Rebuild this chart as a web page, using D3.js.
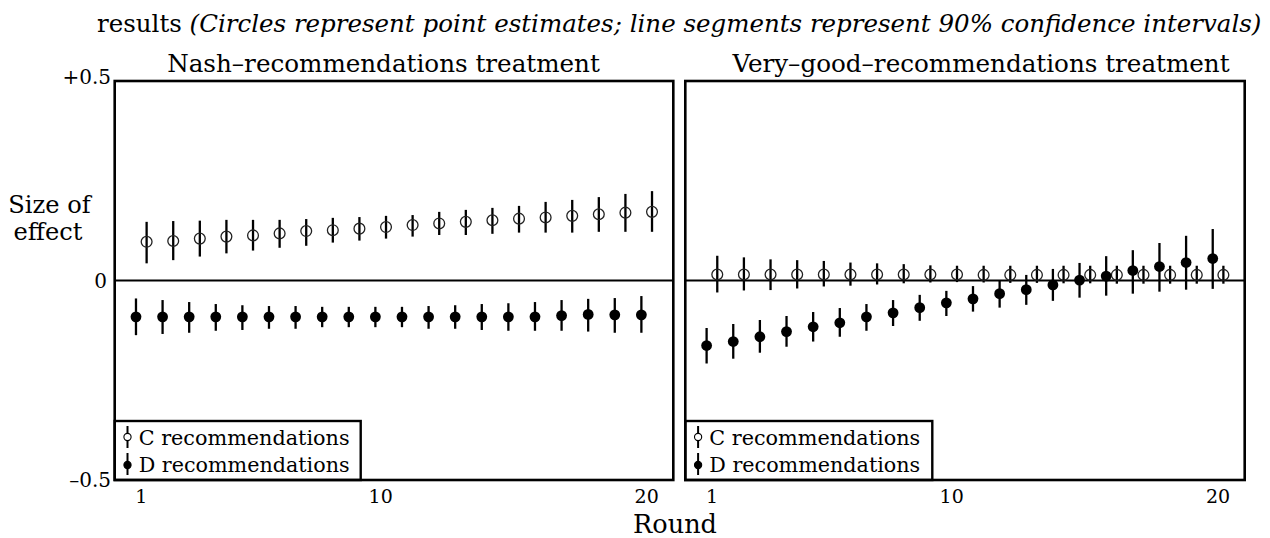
<!DOCTYPE html>
<html><head><meta charset="utf-8">
<script src="https://cdn.jsdelivr.net/npm/d3@7"></script>
<style>html,body{margin:0;padding:0;background:#fff;}svg{display:block;}</style>
</head><body>
<script>
// ---- data ----
const rounds = [1,2,3,4,5,6,7,8,9,10,11,12,13,14,15,16,17,18,19,20];
const panelTitles = ["Nash\u2013recommendations treatment", "Very\u2013good\u2013recommendations treatment"];
const seriesNames = ["C recommendations", "D recommendations"];
const xTicks = [1, 10, 20];
const yTicks = [0.5, 0, -0.5];
const yTickLabels = ["+0.5", "0", "\u20130.5"];

const nashC   = [0.097,0.099,0.105,0.110,0.113,0.118,0.124,0.126,0.130,0.134,0.139,0.143,0.147,0.151,0.155,0.158,0.162,0.166,0.170,0.172];
const nashCLo = [0.043,0.051,0.060,0.068,0.075,0.082,0.087,0.095,0.100,0.105,0.110,0.114,0.114,0.117,0.120,0.120,0.120,0.122,0.122,0.122];
const nashCHi = [0.147,0.149,0.150,0.152,0.152,0.152,0.154,0.157,0.159,0.162,0.164,0.172,0.177,0.182,0.187,0.197,0.202,0.209,0.217,0.224];
const nashD   = [-0.091,-0.091,-0.091,-0.091,-0.091,-0.091,-0.091,-0.091,-0.091,-0.091,-0.091,-0.091,-0.091,-0.091,-0.091,-0.091,-0.088,-0.085,-0.086,-0.086];
const nashDLo = [-0.137,-0.134,-0.131,-0.126,-0.124,-0.121,-0.121,-0.117,-0.117,-0.117,-0.117,-0.121,-0.121,-0.124,-0.126,-0.126,-0.126,-0.128,-0.131,-0.131];
const nashDHi = [-0.045,-0.049,-0.054,-0.059,-0.062,-0.064,-0.064,-0.066,-0.066,-0.066,-0.066,-0.064,-0.062,-0.059,-0.057,-0.054,-0.049,-0.046,-0.044,-0.039];

const veryC   = [0.015,0.015,0.015,0.015,0.015,0.015,0.015,0.015,0.015,0.015,0.014,0.014,0.014,0.014,0.014,0.014,0.014,0.014,0.014,0.014];
const veryCLo = [-0.030,-0.025,-0.024,-0.020,-0.015,-0.013,-0.010,-0.007,-0.005,-0.004,-0.005,-0.006,-0.006,-0.007,-0.007,-0.008,-0.008,-0.008,-0.008,-0.008];
const veryCHi = [0.062,0.058,0.053,0.051,0.049,0.045,0.043,0.041,0.038,0.037,0.037,0.037,0.037,0.037,0.037,0.037,0.037,0.037,0.037,0.037];
const veryD   = [-0.163,-0.153,-0.141,-0.128,-0.116,-0.106,-0.091,-0.081,-0.068,-0.056,-0.046,-0.033,-0.023,-0.011,0.001,0.011,0.025,0.035,0.045,0.055];
const veryDLo = [-0.208,-0.196,-0.181,-0.166,-0.153,-0.141,-0.126,-0.114,-0.101,-0.089,-0.078,-0.068,-0.061,-0.051,-0.043,-0.038,-0.033,-0.028,-0.023,-0.021];
const veryDHi = [-0.119,-0.109,-0.099,-0.089,-0.079,-0.069,-0.059,-0.049,-0.036,-0.026,-0.014,-0.001,0.014,0.029,0.044,0.061,0.076,0.094,0.112,0.129];

// ---- layout ----
const W = 1270, H = 538;
const FONT = "DejaVu Serif";
const svg = d3.select("body").append("svg").attr("width", W).attr("height", H)
  .attr("font-family", FONT);

function fitSize(sel, target) {
  const w = sel.node().getComputedTextLength();
  const fs = parseFloat(sel.attr("font-size"));
  return fs * target / w;
}
function fit(sel, target) {
  sel.attr("font-size", fitSize(sel, target).toFixed(2));
  return sel;
}

const yScale = d3.scaleLinear().domain([-0.5, 0.5]).range([480, 81]);
const offset = 0.2;

const panels = [
  {title: panelTitles[0], x0: 114.7, x1: 673.3, titleCx: 383.5, titleW: 403,
   C: nashC, CLo: nashCLo, CHi: nashCHi, D: nashD, DLo: nashDLo, DHi: nashDHi},
  {title: panelTitles[1], x0: 685.3, x1: 1244.7, titleCx: 981, titleW: 532,
   C: veryC, CLo: veryCLo, CHi: veryCHi, D: veryD, DLo: veryDLo, DHi: veryDHi}
];

// title
const title = svg.append("text").attr("x", 97).attr("y", 32).attr("font-size", 20);
title.append("tspan").text("results ");
title.append("tspan").attr("font-style", "italic")
  .text("(Circles represent point estimates; line segments represent 90% confidence intervals)");
fit(title, 1165);

const ptSel = [];
panels.forEach((p, pi) => {
  const x = d3.scaleLinear().domain([0, 21]).range([p.x0, p.x1]);
  const g = svg.append("g");

  // zero line
  g.append("line").attr("x1", p.x0).attr("x2", p.x1)
    .attr("y1", yScale(0)).attr("y2", yScale(0))
    .attr("stroke", "#000").attr("stroke-width", 2);

  const cData = rounds.map((r, i) => ({r, v: p.C[i], lo: p.CLo[i], hi: p.CHi[i]}));
  const dData = rounds.map((r, i) => ({r, v: p.D[i], lo: p.DLo[i], hi: p.DHi[i]}));

  // error bars
  g.selectAll(".ebc").data(cData).enter().append("line")
    .attr("x1", d => x(d.r + offset)).attr("x2", d => x(d.r + offset))
    .attr("y1", d => yScale(d.lo)).attr("y2", d => yScale(d.hi))
    .attr("stroke", "#000").attr("stroke-width", 2.3);
  g.selectAll(".ebd").data(dData).enter().append("line")
    .attr("x1", d => x(d.r - offset)).attr("x2", d => x(d.r - offset))
    .attr("y1", d => yScale(d.lo)).attr("y2", d => yScale(d.hi))
    .attr("stroke", "#000").attr("stroke-width", 2.3);

  // points
  g.selectAll(".pc").data(cData).enter().append("circle")
    .attr("cx", d => x(d.r + offset)).attr("cy", d => yScale(d.v)).attr("r", 5.4)
    .attr("fill", "none").attr("stroke", "#222").attr("stroke-width", 1.3);
  g.selectAll(".pd").data(dData).enter().append("circle")
    .attr("cx", d => x(d.r - offset)).attr("cy", d => yScale(d.v)).attr("r", 5.4)
    .attr("fill", "#000");

  // legend
  const lg = g.append("g");
  const lw = pi === 0 ? 246 : 247;
  lg.append("rect").attr("x", p.x0).attr("y", 421).attr("width", lw).attr("height", 480 - 421)
    .attr("fill", "#fff").attr("stroke", "#000").attr("stroke-width", 2.4);
  const sx = p.x0 + 12.8;
  [[426, 448, 437, false, 445], [453, 475, 465, true, 471.7]].forEach((e, k) => {
    lg.append("line").attr("x1", sx).attr("x2", sx).attr("y1", e[0]).attr("y2", e[1])
      .attr("stroke", "#000").attr("stroke-width", 2);
    lg.append("circle").attr("cx", sx).attr("cy", e[2]).attr("r", 3.6)
      .attr("fill", e[3] ? "#000" : "#fff").attr("stroke", "#000").attr("stroke-width", 1.1);
    const t = lg.append("text").attr("x", p.x0 + 24).attr("y", e[4]).attr("font-size", 18)
      .text(seriesNames[k]);
    fit(t, 211);
  });

  // frame
  g.append("rect").attr("x", p.x0).attr("y", yScale(0.5))
    .attr("width", p.x1 - p.x0).attr("height", yScale(-0.5) - yScale(0.5))
    .attr("fill", "none").attr("stroke", "#000").attr("stroke-width", 2.6);

  // panel title
  const pt = g.append("text").attr("x", p.titleCx).attr("y", 72.3)
    .attr("text-anchor", "middle").attr("font-size", 22).text(p.title);
  ptSel.push([pt, p.titleW]);

  // x tick labels
  g.selectAll(".xt").data(xTicks).enter().append("text")
    .attr("x", d => x(d)).attr("y", 503).attr("text-anchor", "middle")
    .attr("font-size", 19).text(d => d);
});
// both panel titles share one size
const ptSize = d3.mean(ptSel, d => fitSize(d[0], d[1]));
ptSel.forEach(d => d[0].attr("font-size", ptSize.toFixed(2)));

// y tick labels
svg.selectAll(".yt").data(yTicks).enter().append("text")
  .attr("x", d => d === 0 ? 107 : 111)
  .attr("y", (d, i) => yScale(d) + (d > 0 ? -4 : 0))
  .attr("dy", "0.36em").attr("text-anchor", "end").attr("font-size", 20)
  .text((d, i) => yTickLabels[i]);

// y axis label
const yl1 = svg.append("text").attr("x", 49.5).attr("y", 213).attr("text-anchor", "middle").attr("font-size", 20).text("Size of");
fit(yl1, 82.4);
const yl2 = svg.append("text").attr("x", 48).attr("y", 240).attr("text-anchor", "middle").text("effect")
  .attr("font-size", yl1.attr("font-size"));

// x axis label
const xl = svg.append("text").attr("x", 675).attr("y", 533).attr("text-anchor", "middle").attr("font-size", 22).text("Round");
fit(xl, 84);
</script>
</body></html>
